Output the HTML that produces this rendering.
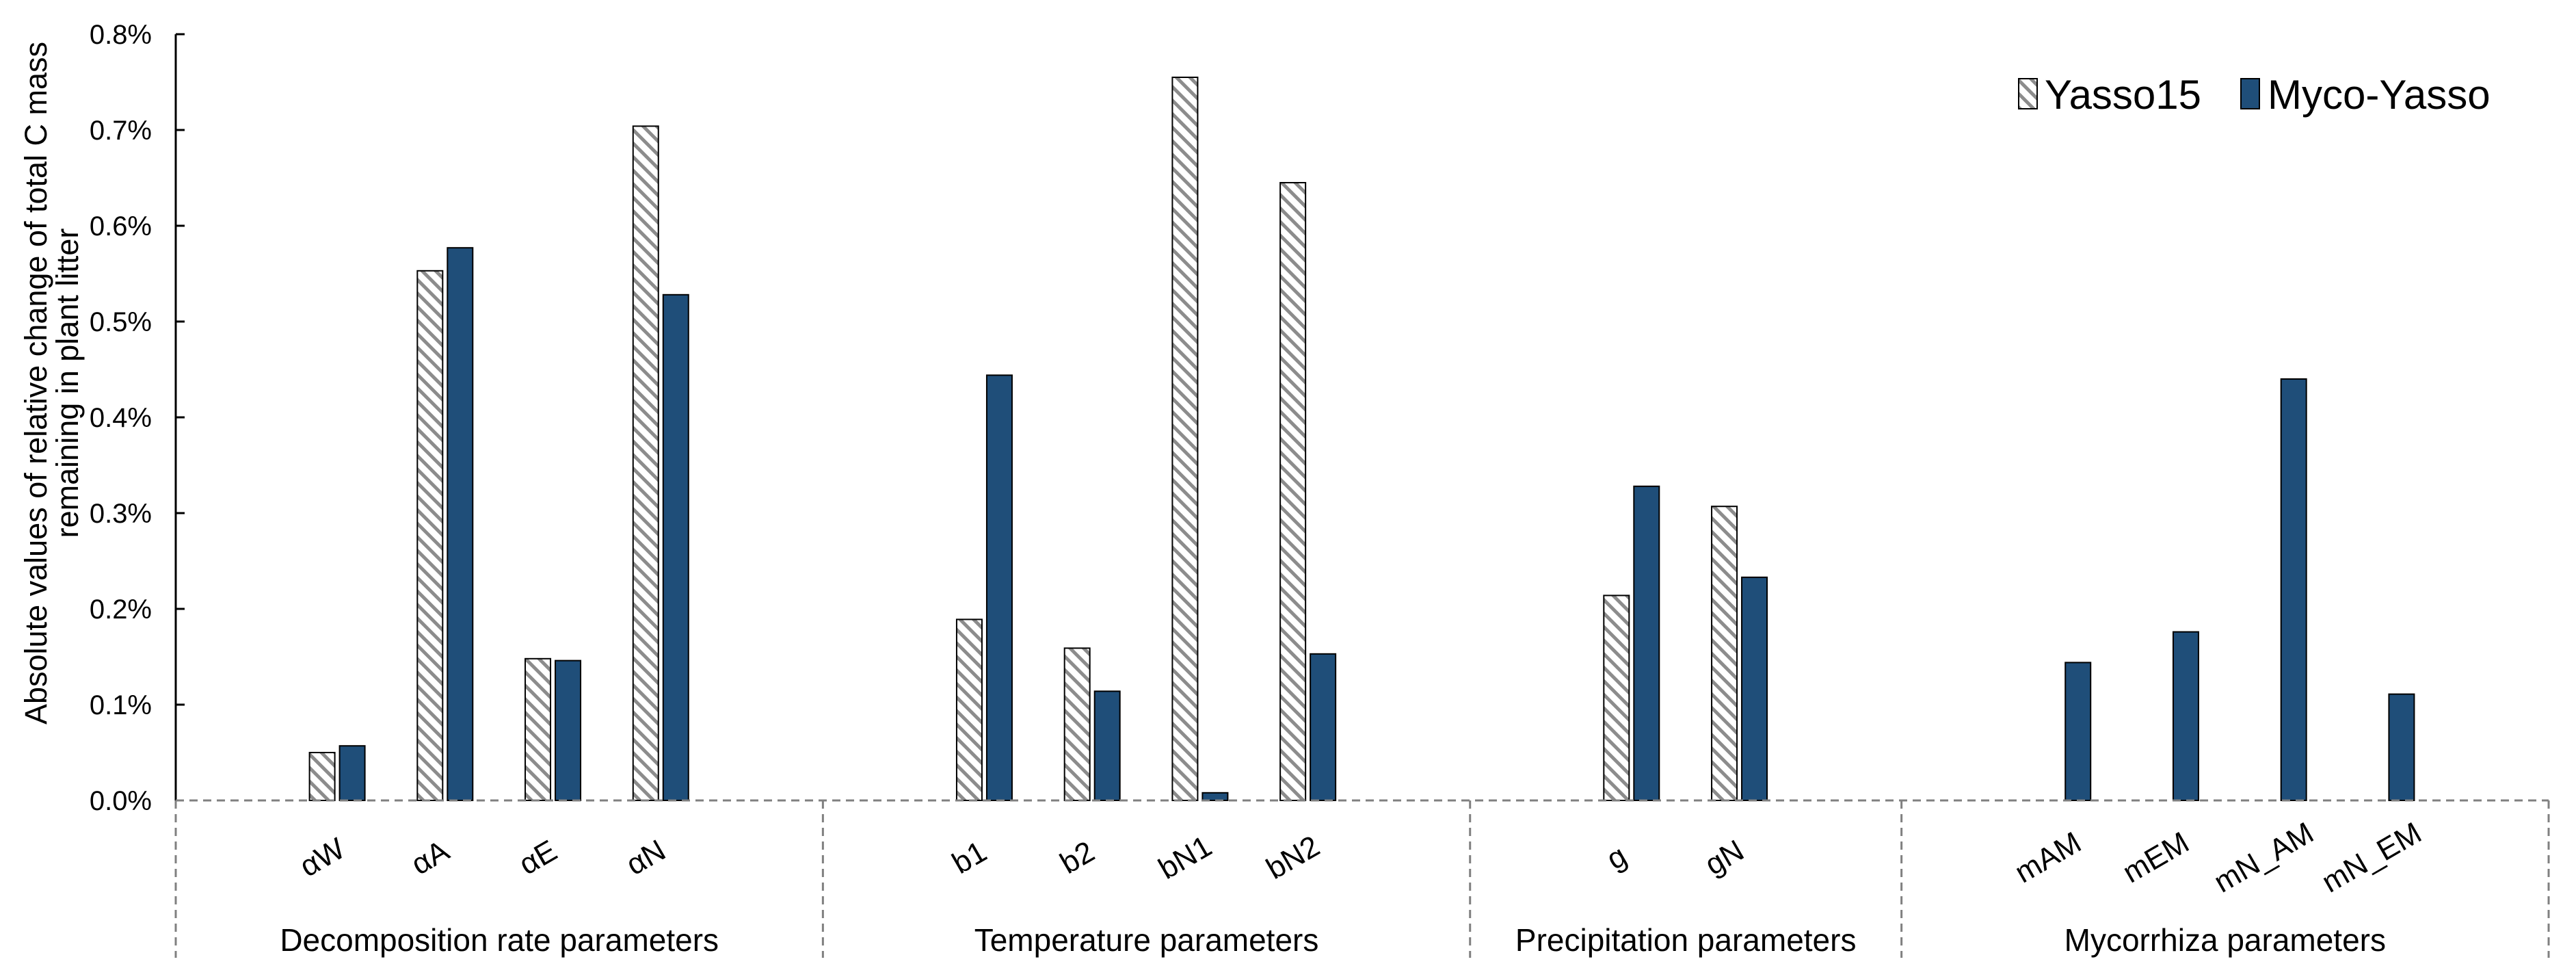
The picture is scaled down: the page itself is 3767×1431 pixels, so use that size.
<!DOCTYPE html>
<html><head><meta charset="utf-8"><style>
html,body{margin:0;padding:0;background:#fff;}
svg{display:block;font-family:"Liberation Sans",sans-serif;}
</style></head><body>
<svg id="chart" width="3767" height="1431" viewBox="0 0 3767 1431" xmlns="http://www.w3.org/2000/svg">
<defs>
<pattern id="hatch" patternUnits="userSpaceOnUse" width="14" height="14" patternTransform="rotate(-45)">
<rect width="14" height="14" fill="#fff"/>
<rect x="0" y="0" width="5" height="14" fill="#8c8c8c"/>
</pattern>
</defs>
<g id="grid"></g>
<g id="bars"></g>
<g id="axes"></g>
<g id="legend">
<rect x="2952" y="115" width="27" height="44" fill="url(#hatch)" stroke="#000" stroke-width="2"/>
<text x="2990" y="159" font-size="60">Yasso15</text>
<rect x="3277" y="115" width="27" height="44" fill="#1F4E79" stroke="#000" stroke-width="2"/>
<text x="3316" y="159" font-size="60">Myco-Yasso</text>
</g>
</svg>
<script>
const categories = ["αW","αA","αE","αN","b1","b2","bN1","bN2","g","gN","mAM","mEM","mN_AM","mN_EM"];
const slots = [1,2,3,4,7,8,9,10,13,14,17,18,19,20];
const yasso15 = [0.050,0.553,0.148,0.704,0.189,0.159,0.755,0.645,0.214,0.307,0,0,0,0];
const mycoYasso = [0.057,0.577,0.146,0.528,0.444,0.114,0.008,0.153,0.328,0.233,0.144,0.176,0.440,0.111];
const yTicks = [0,0.1,0.2,0.3,0.4,0.5,0.6,0.7,0.8];
const yTickLabels = ["0.0%","0.1%","0.2%","0.3%","0.4%","0.5%","0.6%","0.7%","0.8%"];
const groups = ["Decomposition rate parameters","Temperature parameters","Precipitation parameters","Mycorrhiza parameters"];
const groupBounds = [0,6,12,16,22];

const NS="http://www.w3.org/2000/svg";
const X0=257, SLOT=(3727-257)/22, Y0=1170, PER=1400;
function sx(s){return X0+(s+0.5)*SLOT;}
function sb(b){return X0+b*SLOT;}
function sy(v){return Y0-v*PER;}
function mk(tag,attrs,parent,txt){const e=document.createElementNS(NS,tag);for(const k in attrs)e.setAttribute(k,attrs[k]);if(txt!==undefined)e.textContent=txt;parent.appendChild(e);return e;}
const bars=document.getElementById('bars'), axes=document.getElementById('axes');

categories.forEach((c,i)=>{
  const cx=sx(slots[i]);
  if(yasso15[i]>0){
    const r=mk('rect',{x:cx-41,y:sy(yasso15[i]),width:37,height:Y0-sy(yasso15[i]),fill:'url(#hatch)',stroke:'#000','stroke-width':2},bars);
    
    
  }
  const b=mk('rect',{x:cx+3,y:sy(mycoYasso[i]),width:37,height:Y0-sy(mycoYasso[i]),fill:'#1F4E79',stroke:'#000','stroke-width':2},bars);
  
  
  const t=mk('text',{x:cx-22,y:1268,'font-size':44,'text-anchor':'middle',transform:'rotate(-30 '+(cx-22)+' 1254)'},axes,c);
  
  
});

const ya=mk('line',{x1:X0,y1:sy(0.8),x2:X0,y2:Y0,stroke:'#000','stroke-width':3},axes);


yTicks.forEach((v,i)=>{
  if(v>0){const tk=mk('line',{x1:X0,y1:sy(v),x2:X0+13,y2:sy(v),stroke:'#000','stroke-width':3},axes);
  
  }
  const tl=mk('text',{x:222,y:sy(v)+14,'font-size':40,'text-anchor':'end'},axes,yTickLabels[i]);
  
  
});
const zl=mk('line',{x1:X0,y1:Y0,x2:sb(22),y2:Y0,stroke:'#808080','stroke-width':3,'stroke-dasharray':'12 8'},axes);


groupBounds.forEach(b=>{
  const vl=mk('line',{x1:sb(b),y1:Y0,x2:sb(b),y2:1400,stroke:'#808080','stroke-width':3,'stroke-dasharray':'12 8'},axes);
  
  
});
groups.forEach((g,i)=>{
  const gx=(sb(groupBounds[i])+sb(groupBounds[i+1]))/2;
  const gt=mk('text',{x:gx,y:1390,'font-size':46,'text-anchor':'middle'},axes,g);
  
  
});
const yt=mk('text',{'font-size':45,'text-anchor':'middle',transform:'translate(68 560) rotate(-90)'},axes);


mk('tspan',{x:0,y:0},yt,'Absolute values of relative change of total C mass');
mk('tspan',{x:0,y:46},yt,'remaining in plant litter');
</script>
</body></html>
